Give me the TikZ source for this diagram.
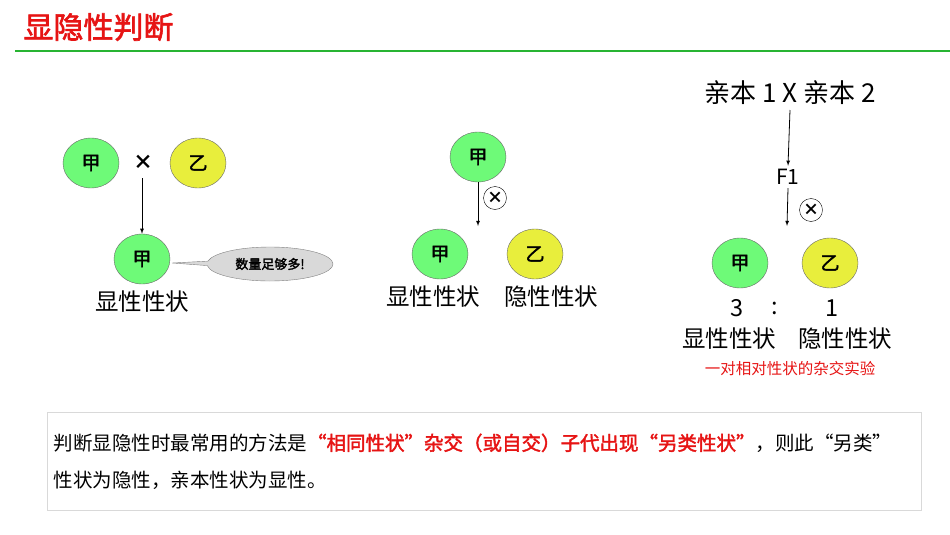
\documentclass[tikz,border=0pt]{standalone}
\usepackage{fontspec}
\setmainfont{Noto Sans CJK SC}
\newfontfamily\cjkb[FakeBold=2]{Noto Sans CJK SC}
\usetikzlibrary{shapes.geometric,shapes.callouts}
\definecolor{cellgreen}{RGB}{110,250,120}
\definecolor{cellyellow}{RGB}{232,238,60}
\definecolor{titlered}{RGB}{230,20,20}
\definecolor{rulegreen}{RGB}{40,180,50}
\tikzset{
  cell/.style={ellipse,draw=black!60,minimum width=56pt,minimum height=50pt,inner sep=0pt,font=\fontsize{19}{19}\selectfont\cjkb},
  jia/.style={cell,fill=cellgreen},
  yi/.style={cell,fill=cellyellow},
  selfx/.style={circle,draw,inner sep=0pt,minimum size=23pt,font=\fontsize{16}{16}\selectfont\bfseries},
  trait/.style={font=\fontsize{23.5}{23.5}\selectfont},
  arr/.style={-latex,thick}
}
\begin{document}
\begin{tikzpicture}[x=1pt,y=-1pt]
  \useasboundingbox (0,0) rectangle (950,535);
  \node[text=titlered,font=\fontsize{30}{30}\selectfont\cjkb,anchor=west] (title) at (20,27) {显隐性判断};
  \draw[rulegreen,line width=2pt] (15,51) -- (950,51);

  % left: hybrid cross
  \node[jia] (a1) at (91,163) {甲};
  \node[font=\fontsize{20}{20}\selectfont\bfseries] (x1) at (143,162) {×};
  \node[yi] (b1) at (198,163) {乙};
  \node[jia] (c1) at (142,259) {甲};
  \coordinate (p1) at (142,178);
  \draw[arr] (p1) -- (c1.north);
  \node[ellipse callout,draw=black!50,fill=black!15,minimum width=126pt,minimum height=34pt,
        callout absolute pointer={(172,263)},font=\fontsize{13}{13}\selectfont\cjkb] (note) at (270,264) {数量足够多!};
  \node[trait] (t1) at (142,302) {显性性状};

  % middle: selfing
  \node[jia] (a2) at (478,157) {甲};
  \coordinate (p2) at (478,226);
  \draw[arr] (a2.south) -- (p2);
  \node[selfx] (s2) at (495,198) {×};
  \node[jia] (c2) at (440,254) {甲};
  \node[yi] (d2) at (535,254) {乙};
  \node[trait] (t2) at (433,297) {显性性状};
  \node[trait] (t3) at (551,297) {隐性性状};

  % right: F1 selfing
  \node[font=\fontsize{26}{26}\selectfont] (par) at (790,93) {亲本 1 X 亲本 2};
  \node[font=\fontsize{21}{21}\selectfont] (f1) at (788,177) {F1};
  \coordinate (p0) at (790,110);
  \draw[arr] (p0) -- (f1.north);
  \coordinate (p3) at (787,226);
  \draw[arr] (f1.south) -- (p3);
  \node[selfx] (s3) at (811,210) {×};
  \node[jia] (c3) at (740,263) {甲};
  \node[yi] (d3) at (830,263) {乙};
  \node[trait] (n3) at (737,308) {3};
  \node[trait] (colon) at (775,308) {:};
  \node[trait] (n1) at (832,308) {1};
  \node[trait] (t4) at (729,339) {显性性状};
  \node[trait] (t5) at (845,339) {隐性性状};
  \node[text=titlered,font=\fontsize{15.5}{15.5}\selectfont] (cap) at (790,369) {一对相对性状的杂交实验};

  % conclusion box
  \draw[black!15] (47,412) rectangle (921,510);
  \node[anchor=west,font=\fontsize{19.5}{19.5}\selectfont] (l1) at (50,443)
    {判断显隐性时最常用的方法是{\color{titlered}\cjkb“相同性状”杂交（或自交）子代出现“另类性状”}，则此“另类”};
  \node[anchor=west,font=\fontsize{19.5}{19.5}\selectfont] (l2) at (50,480) {性状为隐性，亲本性状为显性。};
\end{tikzpicture}
\end{document}
